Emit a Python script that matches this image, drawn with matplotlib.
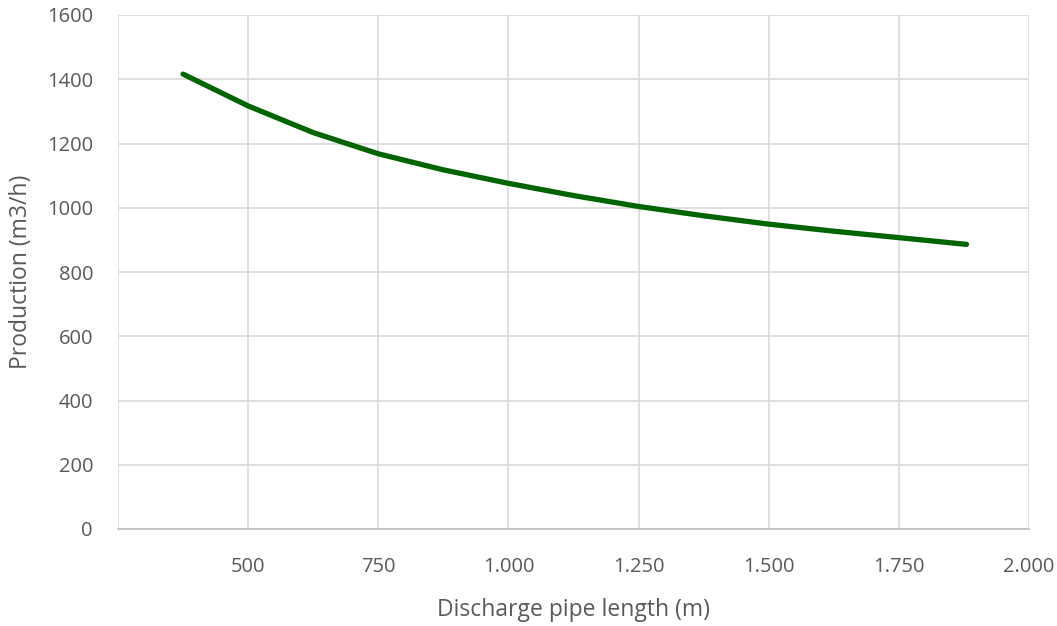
import numpy as np
import matplotlib.pyplot as plt

pipe_length = [375, 500, 625, 750, 875, 1000, 1125, 1250, 1375, 1500, 1625, 1750, 1880]
production = [1416, 1317, 1234, 1168, 1118, 1076, 1038, 1004, 975, 949, 927, 907, 886]

x_ticks = [250, 500, 750, 1000, 1250, 1500, 1750, 2000]
x_labels = ["", "500", "750", "1.000", "1.250", "1.500", "1.750", "2.000"]
y_ticks = [0, 200, 400, 600, 800, 1000, 1200, 1400, 1600]

plt.rcParams["font.family"] = ["Open Sans", "DejaVu Sans"]
txt = "#595959"
grid = "#d9d9d9"

fig = plt.figure(figsize=(10.57, 6.26), dpi=100)
ax = fig.add_axes([118 / 1057, 1 - 529 / 626, (1029 - 118) / 1057, (529 - 15) / 626])

ax.plot(pipe_length, production, color="#006400", lw=3.8, solid_capstyle="round",
        solid_joinstyle="round")

ax.set_xlim(250, 2000)
ax.set_ylim(0, 1600)
ax.set_xticks(x_ticks)
ax.set_xticklabels(x_labels)
ax.set_yticks(y_ticks)
ax.grid(True, color=grid, lw=1.2)
ax.set_axisbelow(True)
for s in ["top", "right", "left"]:
    ax.spines[s].set_visible(False)
ax.spines["bottom"].set_color("#bfbfbf")
ax.spines["bottom"].set_linewidth(1.2)
ax.tick_params(length=0, labelsize=14.5, labelcolor=txt)
ax.tick_params(axis="x", pad=20)
ax.tick_params(axis="y", pad=18)

ax.set_xlabel("Discharge pipe length (m)", fontsize=16.5, color=txt, labelpad=15)
ax.set_ylabel("Production (m3/h)", fontsize=16.5, color=txt, labelpad=10)

plt.savefig("out.png", dpi=100)
